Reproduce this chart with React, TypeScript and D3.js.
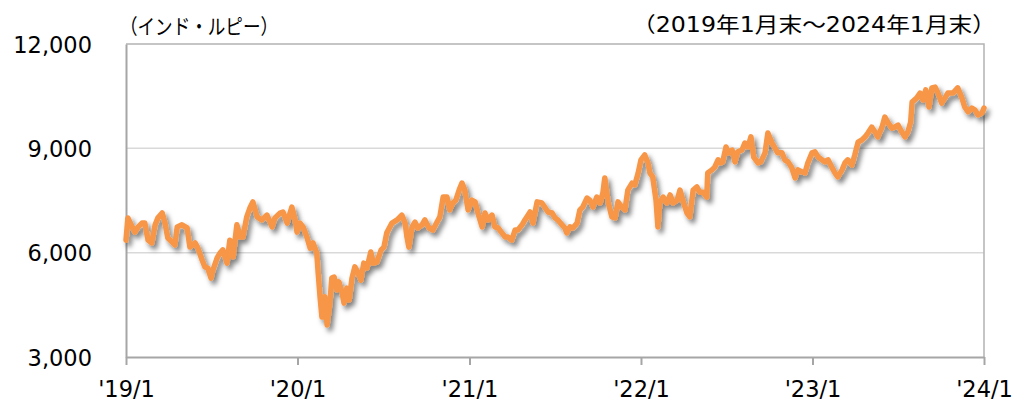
import React, { useEffect, useRef } from "react";
import * as d3 from "d3";

// days after 2019-01-31, and the rupee index level on that day
const dayOffsets = [
  0, 4, 13, 19, 26, 34, 40, 47, 55, 62, 68, 77, 83, 89, 98, 104, 109, 119, 130, 136,
  147, 153, 162, 168, 174, 181, 185, 194, 200, 206, 215, 221, 228, 236, 243, 249, 257, 264, 270, 279,
  289, 300, 311, 317, 328, 334, 343, 353, 360, 364,
  370, 377, 385, 392, 398, 406, 409, 413, 417, 423, 428, 434, 438, 443, 449, 453, 460, 464, 470, 475,
  481, 487, 494, 500, 506, 513, 521, 526, 534, 543, 549, 555, 566, 577, 587, 594, 598, 602, 609, 615,
  621, 630, 636, 645, 653, 662, 668, 675, 683, 689, 696, 702, 709, 715, 721, 728,
  736, 743, 749, 758, 764, 770, 779, 785, 792, 800, 807, 813, 821, 828, 834, 843, 849, 860, 866, 875,
  885, 892, 898, 907, 913, 919, 928, 934, 938, 945, 951, 960, 966, 972, 981, 987, 994, 1002, 1009, 1015,
  1019, 1026, 1034, 1041, 1047, 1055, 1062, 1068, 1077, 1083, 1090,
  1096, 1104, 1111, 1115, 1121, 1128, 1132, 1136, 1143, 1151, 1158, 1164, 1173, 1179, 1185, 1194, 1200, 1207, 1215, 1221,
  1228, 1236, 1238, 1247, 1253, 1260, 1266, 1270, 1277, 1281, 1290, 1296, 1302, 1311, 1317, 1324, 1330, 1336, 1345, 1351,
  1360, 1366, 1375, 1381, 1387, 1396, 1402, 1409, 1417, 1424, 1430, 1439, 1445, 1451, 1460,
  1466, 1473, 1481, 1487, 1494, 1502, 1509, 1515, 1524, 1530, 1536, 1545, 1551, 1558, 1566, 1573, 1579, 1587, 1594, 1600,
  1609, 1615, 1622, 1630, 1636, 1643, 1651, 1658, 1664, 1670, 1673, 1683, 1690, 1696, 1702, 1709, 1715, 1722, 1728, 1736,
  1743, 1749, 1760, 1770, 1779, 1785, 1792, 1800, 1807, 1813, 1822, 1826,
];

const levels = [
  6360, 7000, 6740, 6590, 6740, 6850, 6850, 6360, 6280, 6800, 7000, 7140, 6850, 6420, 6310, 6220, 6740, 6800, 6710, 6160,
  6280, 6130, 5790, 5590, 5560, 5270, 5500, 5850, 5990, 6080, 5700, 6360, 5880, 6800, 6450, 6450, 7030, 7290, 7460, 7030,
  6940, 7080, 6740, 7000, 7140, 7170, 6850, 7310, 6940, 6590,
  6850, 6740, 6450, 6130, 6280, 5990, 5420, 4730, 4150, 4730, 3920, 4550, 5270, 5300, 4930, 5160, 4840, 4550, 4980, 4640,
  5270, 5590, 5420, 5210, 5700, 5560, 6020, 5700, 5730, 6080, 6160, 6570, 6850, 6940, 7080, 6850, 6450, 6160, 6740, 6880,
  6710, 6800, 6940, 6710, 6650, 6880, 7030, 7600, 7600, 7230, 7430, 7510, 7800, 8000, 7800, 7230,
  7510, 7460, 7140, 6740, 7140, 6940, 7080, 6740, 6710, 6570, 6450, 6450, 6360, 6650, 6650, 6800, 6940, 7170, 6850, 7460,
  7430, 7290, 7170, 7140, 7000, 6940, 6800, 6710, 6570, 6740, 6710, 6850, 7230, 7310, 7570, 7510, 7310, 7600, 7430, 7720,
  8150, 7460, 7030, 7000, 7460, 7310, 7230, 7800, 8000, 7950, 8290,
  8670, 8810, 8580, 8290, 8180, 7510, 6740, 7430, 7600, 7430, 7660, 7430, 7510, 7800, 7510, 7140, 7030, 7800, 7890, 7740,
  7740, 7600, 8290, 8380, 8460, 8670, 8580, 8610, 9040, 8870, 8950, 8610, 8900, 8950, 9150, 9040, 9330, 8750, 8580, 8610,
  8870, 9440, 9150, 9010, 8870, 8870, 8670, 8610, 8440, 8150, 8380, 8320, 8290, 8580, 8870,
  8900, 8750, 8670, 8610, 8670, 8460, 8290, 8180, 8380, 8580, 8670, 8520, 8810, 9180, 9240, 9330, 9440, 9610, 9470, 9330,
  9610, 9900, 9730, 9580, 9610, 9670, 9470, 9330, 9470, 9760, 10330, 10450, 10590, 10390, 10680, 10190, 10740, 10760, 10590, 10300,
  10450, 10590, 10590, 10740, 10450, 10190, 10050, 10160, 10100, 9960, 10020, 10160,
];

const xTickDates = ["2019-01-31", "2020-01-31", "2021-01-31", "2022-01-31", "2023-01-31", "2024-01-31"];
const xTickLabels = ["'19/1", "'20/1", "'21/1", "'22/1", "'23/1", "'24/1"];
const yTicks = [3000, 6000, 9000, 12000];
const unitLabel = "（インド・ルピー）";
const periodLabel = "（2019年1月末～2024年1月末）";

const App = () => {
  const ref = useRef<SVGSVGElement>(null);

  useEffect(() => {
    const width = 1015;
    const height = 402;
    const margin = { top: 44, right: 31, bottom: 45, left: 126 };
    const font = "'DejaVu Sans', Verdana, 'Noto Sans CJK JP', sans-serif";

    const start = new Date(2019, 0, 31);
    const data = dayOffsets.map((d, i) => ({ date: d3.timeDay.offset(start, d), value: levels[i] }));
    const tickDates = xTickDates.map((s) => d3.timeParse("%Y-%m-%d")(s) as Date);

    const svg = d3.select(ref.current).attr("width", width).attr("height", height);
    svg.selectAll("*").remove();

    const x = d3
      .scaleTime()
      .domain([tickDates[0], tickDates[tickDates.length - 1]])
      .range([margin.left, width - margin.right]);

    const y = d3
      .scaleLinear()
      .domain([3000, 12000])
      .range([height - margin.bottom, margin.top]);

    const defs = svg.append("defs");
    const f = defs
      .append("filter")
      .attr("id", "shadow")
      .attr("x", "-5%")
      .attr("y", "-10%")
      .attr("width", "115%")
      .attr("height", "130%");
    f.append("feDropShadow")
      .attr("dx", 3)
      .attr("dy", 4)
      .attr("stdDeviation", 2.5)
      .attr("flood-color", "#000")
      .attr("flood-opacity", 0.5);

    // gridlines
    svg
      .append("g")
      .selectAll("line")
      .data([6000, 9000])
      .join("line")
      .attr("x1", margin.left)
      .attr("x2", width - margin.right)
      .attr("y1", (d) => y(d))
      .attr("y2", (d) => y(d))
      .attr("stroke", "#d9d9d9")
      .attr("stroke-width", 1.5);

    // frame top + right
    svg
      .append("path")
      .attr("d", `M${margin.left},${y(12000)}H${width - margin.right}V${height - margin.bottom}`)
      .attr("fill", "none")
      .attr("stroke", "#b3b3b3")
      .attr("stroke-width", 1.5);

    // x axis
    const xAxis = svg
      .append("g")
      .attr("transform", `translate(0,${height - margin.bottom})`)
      .call(
        d3
          .axisBottom(x)
          .tickValues(tickDates)
          .tickSize(8)
          .tickSizeOuter(0)
          .tickFormat((_, i) => xTickLabels[i])
      );
    xAxis.select(".domain").attr("stroke", "#a6a6a6").attr("stroke-width", 2);
    xAxis.selectAll(".tick line").attr("stroke", "#a6a6a6").attr("stroke-width", 2);
    xAxis
      .selectAll(".tick text")
      .attr("y", 40)
      .attr("dy", 0)
      .attr("fill", "#000")
      .style("font-family", font)
      .style("font-size", "22.5px");

    // y axis
    const yAxis = svg
      .append("g")
      .attr("transform", `translate(${margin.left},0)`)
      .call(
        d3
          .axisLeft(y)
          .tickValues(yTicks)
          .tickSize(0)
          .tickPadding(34)
          .tickFormat((d) => d3.format(",")(d as number))
      );
    yAxis.select(".domain").attr("stroke", "#a6a6a6").attr("stroke-width", 2);
    yAxis
      .selectAll(".tick text")
      .attr("dy", 8)
      .attr("fill", "#000")
      .style("font-family", font)
      .style("font-size", "22.5px");

    // series
    const line = d3
      .line<{ date: Date; value: number }>()
      .x((d) => x(d.date))
      .y((d) => y(d.value));

    svg
      .append("path")
      .datum(data)
      .attr("fill", "none")
      .attr("stroke", "#f79646")
      .attr("stroke-width", 5.5)
      .attr("stroke-linejoin", "round")
      .attr("stroke-linecap", "round")
      .attr("filter", "url(#shadow)")
      .attr("d", line);

    // captions
    svg
      .append("text")
      .attr("x", 120)
      .attr("y", 34)
      .attr("textLength", 158)
      .attr("lengthAdjust", "spacingAndGlyphs")
      .style("font-family", font)
      .style("font-size", "21px")
      .text(unitLabel);

    svg
      .append("text")
      .attr("x", 632)
      .attr("y", 32)
      .attr("textLength", 364)
      .attr("lengthAdjust", "spacingAndGlyphs")
      .style("font-family", font)
      .style("font-size", "21px")
      .text(periodLabel);
  }, []);

  return <svg ref={ref} style={{ position: "absolute", left: 0, top: 0 }}></svg>;
};

export default App;
